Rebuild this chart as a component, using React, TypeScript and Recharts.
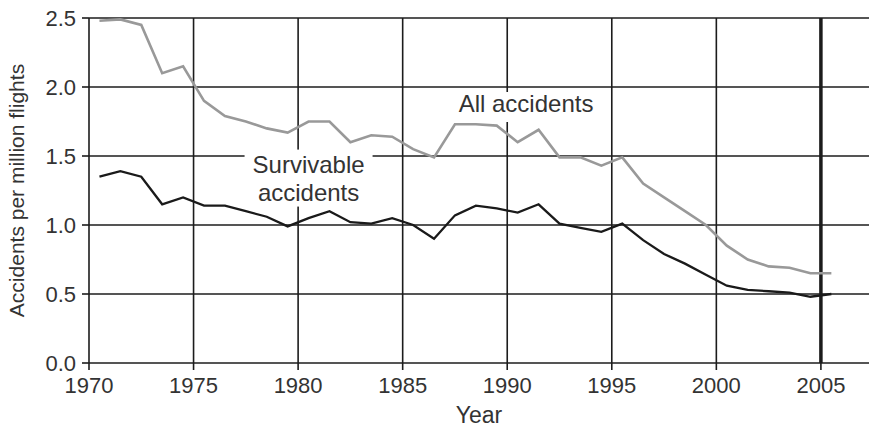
import React from 'react';
import {
  LineChart,
  Line,
  XAxis,
  YAxis,
  CartesianGrid,
  ReferenceLine,
  ReferenceDot,
} from 'recharts';

const years = [
  1970, 1971, 1972, 1973, 1974, 1975, 1976, 1977, 1978, 1979,
  1980, 1981, 1982, 1983, 1984, 1985, 1986, 1987, 1988, 1989,
  1990, 1991, 1992, 1993, 1994, 1995, 1996, 1997, 1998, 1999,
  2000, 2001, 2002, 2003, 2004, 2005,
];

const allAccidents = [
  2.48, 2.49, 2.45, 2.1, 2.15, 1.9, 1.79, 1.75, 1.7, 1.67,
  1.75, 1.75, 1.6, 1.65, 1.64, 1.55, 1.49, 1.73, 1.73, 1.72,
  1.6, 1.69, 1.49, 1.49, 1.43, 1.49, 1.3, 1.2, 1.1, 1.0,
  0.85, 0.75, 0.7, 0.69, 0.65, 0.65,
];

const survivable = [
  1.35, 1.39, 1.35, 1.15, 1.2, 1.14, 1.14, 1.1, 1.06, 0.99,
  1.05, 1.1, 1.02, 1.01, 1.05, 1.0, 0.9, 1.07, 1.14, 1.12,
  1.09, 1.15, 1.01, 0.98, 0.95, 1.01, 0.89, 0.79, 0.72, 0.64,
  0.56, 0.53, 0.52, 0.51, 0.48, 0.5,
];

const xTicks = [1970, 1975, 1980, 1985, 1990, 1995, 2000, 2005];
const yTicks = [0, 0.5, 1.0, 1.5, 2.0, 2.5];

// points sit at mid-year
const data = years.map((yr, i) => ({
  x: yr + 0.5,
  all: allAccidents[i],
  surv: survivable[i],
}));

const FONT = '"Liberation Sans", Arial, Helvetica, sans-serif';
const INK = '#1c1c1c';
const TEXT = '#333';

// text with a white patch behind it (hides grid lines like the original)
const boxLabel = (lines: string[], w: number, h: number, boxDy = 0) => (props: any) => {
  const { cx, cy } = props;
  const lh = 28;
  const top = cy - ((lines.length - 1) * lh) / 2;
  return (
    <g>
      <rect x={cx - w / 2} y={cy - h / 2 + boxDy} width={w} height={h} fill="#fff" />
      {lines.map((t, i) => (
        <text
          key={t}
          x={cx}
          y={top + i * lh}
          textAnchor="middle"
          dominantBaseline="central"
          fontSize={24}
          fontFamily={FONT}
          fill={TEXT}
        >
          {t}
        </text>
      ))}
    </g>
  );
};

export default function App() {
  return (
    <div style={{ position: 'absolute', left: 0, top: 0, background: '#fff' }}>
      <LineChart
        width={869}
        height={429}
        data={data}
        margin={{ top: 18, right: 0, bottom: 0, left: 0 }}
      >
        <CartesianGrid
          stroke={INK}
          strokeWidth={1.6}
          verticalValues={[1975, 1980, 1985, 1990, 1995, 2000]}
          horizontalValues={[0.5, 1.0, 1.5, 2.0, 2.5]}
        />
        <ReferenceLine x={2005} stroke={INK} strokeWidth={3.5} />
        <XAxis
          type="number"
          dataKey="x"
          domain={[1970, 2007.3]}
          ticks={xTicks}
          allowDataOverflow
          height={66}
          tickSize={7}
          tickMargin={7}
          stroke={INK}
          strokeWidth={1.6}
          tick={{ fill: TEXT, fontSize: 22, fontFamily: FONT }}
          label={{
            value: 'Year',
            position: 'insideBottom',
            offset: 6,
            fill: TEXT,
            fontSize: 23,
            fontFamily: FONT,
          }}
        />
        <YAxis
          type="number"
          domain={[0, 2.5]}
          ticks={yTicks}
          width={89}
          tickSize={7}
          tickMargin={6}
          stroke={INK}
          strokeWidth={1.6}
          tickFormatter={(v: number) => v.toFixed(1)}
          tick={{ fill: TEXT, fontSize: 22, fontFamily: FONT }}
          label={{
            value: 'Accidents per million flights',
            angle: -90,
            position: 'insideLeft',
            offset: 17,
            fill: TEXT,
            fontSize: 21,
            fontFamily: FONT,
            style: { textAnchor: 'middle' },
          }}
        />
        <ReferenceDot
          x={1980.5}
          y={1.34}
          r={0}
          shape={boxLabel(['Survivable', 'accidents'], 128, 57)}
        />
        <ReferenceDot
          x={1990.9}
          y={1.884}
          r={0}
          shape={boxLabel(['All accidents'], 148, 30, 4)}
        />
        <Line
          type="linear"
          dataKey="all"
          stroke="#999"
          strokeWidth={2.6}
          dot={false}
          isAnimationActive={false}
        />
        <Line
          type="linear"
          dataKey="surv"
          stroke="#1a1a1a"
          strokeWidth={2.3}
          dot={false}
          isAnimationActive={false}
        />
      </LineChart>
    </div>
  );
}
